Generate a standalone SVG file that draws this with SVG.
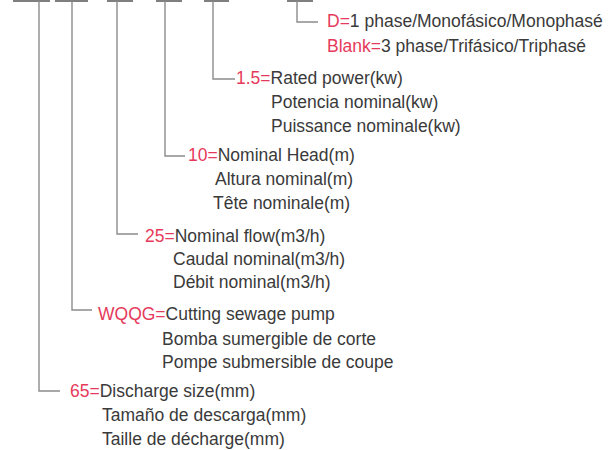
<svg xmlns="http://www.w3.org/2000/svg" width="610" height="450" viewBox="0 0 610 450">
<style>
text{font-family:"Liberation Sans",Arial,sans-serif;font-size:17.5px;fill:#3a3a3a}
.r{fill:#e63a5c}
.bar{stroke:#555;stroke-width:1.6;fill:none}
.ln{stroke:#8c8c8c;stroke-width:1.4;fill:none}
</style>
<rect width="610" height="450" fill="#fff"/>
<g id="connectors">
<path class="bar" d="M13 1H50M55 1H88M107 1H133M156 1H182M204 1H229M287 1H313"/>
<path class="ln" d="M39 1V391H60"/>
<path class="ln" d="M72 1V310H92"/>
<path class="ln" d="M117 1V234H138"/>
<path class="ln" d="M165 1V156H185"/>
<path class="ln" d="M213 1V79H235"/>
<path class="ln" d="M297 1V22H318"/>
</g>
<g id="phase">
<text x="327" y="27"><tspan class="r">D=</tspan>1 phase/Monofásico/Monophasé</text>
<text x="327" y="52"><tspan class="r">Blank=</tspan>3 phase/Trifásico/Triphasé</text>
</g>
<g id="power">
<text x="236" y="84"><tspan class="r">1.5=</tspan>Rated power(kw)</text>
<text x="271" y="108">Potencia nominal(kw)</text>
<text x="271" y="132">Puissance nominale(kw)</text>
</g>
<g id="head">
<text x="188" y="161"><tspan class="r">10=</tspan>Nominal Head(m)</text>
<text x="215" y="185">Altura nominal(m)</text>
<text x="213" y="209">Tête nominale(m)</text>
</g>
<g id="flow">
<text x="145" y="242"><tspan class="r">25=</tspan>Nominal flow(m3/h)</text>
<text x="173" y="265">Caudal nominal(m3/h)</text>
<text x="173" y="288">Débit nominal(m3/h)</text>
</g>
<g id="type">
<text x="98" y="320"><tspan class="r">WQQG=</tspan>Cutting sewage pump</text>
<text x="162" y="345">Bomba sumergible de corte</text>
<text x="162" y="368">Pompe submersible de coupe</text>
</g>
<g id="discharge">
<text x="70" y="397"><tspan class="r">65=</tspan>Discharge size(mm)</text>
<text x="102" y="421">Tamaño de descarga(mm)</text>
<text x="102" y="445">Taille de décharge(mm)</text>
</g>
</svg>
